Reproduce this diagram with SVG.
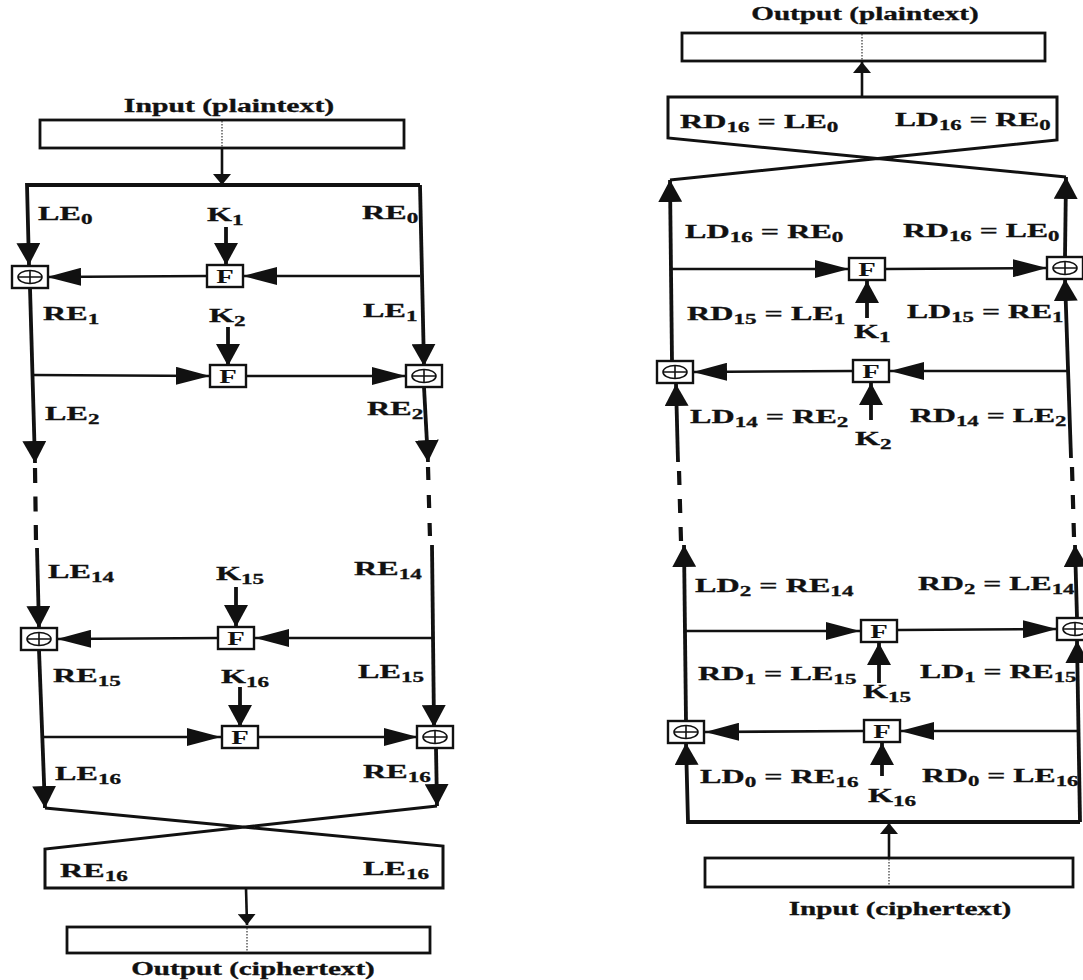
<svg xmlns="http://www.w3.org/2000/svg" width="1083" height="980" viewBox="0 0 1083 980">
<style>
.ln{stroke:#111;stroke-width:3.8;fill:none;stroke-linejoin:miter}
.br{stroke:#111;stroke-width:2.6;fill:none}
.dash{stroke:#111;stroke-width:4.2;fill:none}
.thin{stroke:#111;stroke-width:2.6;fill:none}
.box{fill:#fff;stroke:#111;stroke-width:2.4}
.io{fill:#fff;stroke:#111;stroke-width:2.8}
.dot{stroke:#333;stroke-width:1.2;stroke-dasharray:1.5,1.5}
.ring{fill:none;stroke:#111;stroke-width:1.6}
.t{font-family:"Liberation Serif","Times New Roman",serif;font-weight:bold;font-size:19.5px;fill:#111;stroke:#111;stroke-width:0.3}
.s{font-size:14px}
.ti{font-family:"Liberation Serif","Times New Roman",serif;font-weight:bold;font-size:18px;fill:#111;text-anchor:middle;stroke:#111;stroke-width:0.3}
.fx{font-family:"Liberation Serif","Times New Roman",serif;font-weight:bold;font-size:18px;fill:#111;text-anchor:middle}
</style>
<defs>
<marker id="av" markerUnits="userSpaceOnUse" markerWidth="22" markerHeight="24" refX="22" refY="12" orient="auto" viewBox="0 0 22 24"><path d="M0,0 L22,12 L0,24 z" fill="#111"/></marker>
<marker id="ah" markerUnits="userSpaceOnUse" markerWidth="34" markerHeight="18" refX="34" refY="9" orient="auto" viewBox="0 0 34 18"><path d="M0,0 L34,9 L0,18 z" fill="#111"/></marker>
<marker id="as" markerUnits="userSpaceOnUse" markerWidth="11" markerHeight="18" refX="11" refY="9" orient="auto" viewBox="0 0 11 18"><path d="M0,0 L11,9 L0,18 z" fill="#111"/></marker>
</defs>
<rect width="1083" height="980" fill="#fff"/>

<!-- ===== LEFT: Encryption ===== -->
<g id="connectors-left">
<path class="thin" d="M222,148 L222,185" marker-end="url(#as)"/>
<path class="ln" d="M420,185 L27,185 L29,265" marker-end="url(#av)"/>
<path class="ln" d="M420,185 L424,366" marker-end="url(#av)"/>
<path class="br" d="M420,276 L243,276" marker-end="url(#ah)"/>
<path class="br" d="M207,276 L47,277" marker-end="url(#ah)"/>
<path class="ln" d="M226,227 L226,265" marker-end="url(#av)"/>
<path class="ln" d="M30,288 L35,463" marker-end="url(#av)"/>
<path class="br" d="M33,375 L210,376" marker-end="url(#ah)"/>
<path class="br" d="M247,376 L406,376" marker-end="url(#ah)"/>
<path class="ln" d="M228,327 L228,366" marker-end="url(#av)"/>
<path class="ln" d="M424,387 L428,462" marker-end="url(#av)"/>
<path class="dash" d="M35,468 L36,541" stroke-dasharray="15,13.5"/>
<path class="dash" d="M428,467 L430,538" stroke-dasharray="13,15"/>
<path class="ln" d="M37,548 L39,628" marker-end="url(#av)"/>
<path class="ln" d="M432,545 L434,727" marker-end="url(#av)"/>
<path class="br" d="M432,638 L255,638" marker-end="url(#ah)"/>
<path class="br" d="M218,638 L57,639" marker-end="url(#ah)"/>
<path class="ln" d="M236,587 L236,627" marker-end="url(#av)"/>
<path class="ln" d="M39,650 L45,808" marker-end="url(#av)"/>
<path class="br" d="M42,737 L221,737" marker-end="url(#ah)"/>
<path class="br" d="M258,737 L418,737" marker-end="url(#ah)"/>
<path class="ln" d="M240,687 L240,727" marker-end="url(#av)"/>
<path class="ln" d="M436,748 L437,806" marker-end="url(#av)"/>
<path class="ln" style="stroke-width:3" d="M45,808 L443,846 L443,888 L45,888 L45,849 L437,806"/>
<path class="thin" d="M246,888 L247,925" marker-end="url(#as)"/>
</g>

<g id="input-plaintext">
<text class="ti" transform="translate(229,112) scale(1.65,1)">Input (plaintext)</text>
<rect class="io" x="40" y="120" width="364" height="28"/>
<line class="dot" x1="222" y1="121" x2="222" y2="147"/>
</g>

<g id="xorL1" transform="translate(30,277)"><rect class="box" x="-18" y="-11" width="36" height="22"/><ellipse class="ring" rx="12" ry="6.5"/><path class="ring" d="M-12,0 H12 M0,-6.5 V6.5"/></g>
<g id="fL1" transform="translate(225,276)"><rect class="box" x="-18" y="-11" width="36" height="22"/><text class="fx" transform="translate(0,6.5) scale(1.6,1)">F</text></g>
<g id="xorL2" transform="translate(424,376)"><rect class="box" x="-18" y="-11" width="36" height="22"/><ellipse class="ring" rx="12" ry="6.5"/><path class="ring" d="M-12,0 H12 M0,-6.5 V6.5"/></g>
<g id="fL2" transform="translate(228,376)"><rect class="box" x="-18" y="-11" width="36" height="22"/><text class="fx" transform="translate(0,6.5) scale(1.6,1)">F</text></g>
<g id="xorL3" transform="translate(39,639)"><rect class="box" x="-18" y="-11" width="36" height="22"/><ellipse class="ring" rx="12" ry="6.5"/><path class="ring" d="M-12,0 H12 M0,-6.5 V6.5"/></g>
<g id="fL3" transform="translate(236,638)"><rect class="box" x="-18" y="-11" width="36" height="22"/><text class="fx" transform="translate(0,6.5) scale(1.6,1)">F</text></g>
<g id="xorL4" transform="translate(435,737)"><rect class="box" x="-18" y="-11" width="36" height="22"/><ellipse class="ring" rx="12" ry="6.5"/><path class="ring" d="M-12,0 H12 M0,-6.5 V6.5"/></g>
<g id="fL4" transform="translate(240,737)"><rect class="box" x="-18" y="-11" width="36" height="22"/><text class="fx" transform="translate(0,6.5) scale(1.6,1)">F</text></g>

<g id="labels-left">
<text class="t" transform="translate(38,220) scale(1.65,1)">LE<tspan class="s" dy="4">0</tspan></text>
<text class="t" transform="translate(207,221) scale(1.65,1)">K<tspan class="s" dy="4">1</tspan></text>
<text class="t" transform="translate(362,219) scale(1.65,1)">RE<tspan class="s" dy="4">0</tspan></text>
<text class="t" transform="translate(43,320) scale(1.65,1)">RE<tspan class="s" dy="4">1</tspan></text>
<text class="t" transform="translate(209,322) scale(1.65,1)">K<tspan class="s" dy="4">2</tspan></text>
<text class="t" transform="translate(363,317) scale(1.65,1)">LE<tspan class="s" dy="4">1</tspan></text>
<text class="t" transform="translate(45,420) scale(1.65,1)">LE<tspan class="s" dy="4">2</tspan></text>
<text class="t" transform="translate(367,415) scale(1.65,1)">RE<tspan class="s" dy="4">2</tspan></text>
<text class="t" transform="translate(48,578) scale(1.65,1)">LE<tspan class="s" dy="4">14</tspan></text>
<text class="t" transform="translate(216,580) scale(1.65,1)">K<tspan class="s" dy="4">15</tspan></text>
<text class="t" transform="translate(354,575) scale(1.65,1)">RE<tspan class="s" dy="4">14</tspan></text>
<text class="t" transform="translate(53,682) scale(1.65,1)">RE<tspan class="s" dy="4">15</tspan></text>
<text class="t" transform="translate(221,683) scale(1.65,1)">K<tspan class="s" dy="4">16</tspan></text>
<text class="t" transform="translate(358,678) scale(1.65,1)">LE<tspan class="s" dy="4">15</tspan></text>
<text class="t" transform="translate(55,780) scale(1.65,1)">LE<tspan class="s" dy="4">16</tspan></text>
<text class="t" transform="translate(363,778) scale(1.65,1)">RE<tspan class="s" dy="4">16</tspan></text>
<text class="t" transform="translate(60,877) scale(1.65,1)">RE<tspan class="s" dy="4">16</tspan></text>
<text class="t" transform="translate(363,875) scale(1.65,1)">LE<tspan class="s" dy="4">16</tspan></text>
</g>

<g id="output-ciphertext">
<rect class="io" x="67" y="927" width="363" height="26"/>
<line class="dot" x1="247" y1="928" x2="247" y2="952"/>
<text class="ti" transform="translate(253,975) scale(1.62,1)">Output (ciphertext)</text>
</g>

<!-- ===== RIGHT: Decryption ===== -->
<g id="connectors-right">
<path class="thin" d="M862,97 L862,62" marker-end="url(#as)"/>
<path class="ln" style="stroke-width:3" d="M1066,177 L668,138 L668,97 L1057,97 L1057,140 L670,180"/>
<path class="ln" d="M672,362 L670,180" marker-end="url(#av)"/>
<path class="ln" d="M1065,258 L1066,177" marker-end="url(#av)"/>
<path class="br" d="M671,269 L849,269" marker-end="url(#ah)"/>
<path class="br" d="M886,269 L1047,268" marker-end="url(#ah)"/>
<path class="ln" d="M867,318 L867,281" marker-end="url(#av)"/>
<path class="ln" d="M1071,458 L1065,279" marker-end="url(#av)"/>
<path class="br" d="M1068,371 L890,371" marker-end="url(#ah)"/>
<path class="br" d="M853,371 L693,372" marker-end="url(#ah)"/>
<path class="ln" d="M871,420 L871,383" marker-end="url(#av)"/>
<path class="ln" d="M678,462 L676,384" marker-end="url(#av)"/>
<path class="dash" d="M681,541 L679,470" stroke-dasharray="14,14"/>
<path class="dash" d="M1074,537 L1072,467" stroke-dasharray="14,14"/>
<path class="ln" d="M686,722 L684,545" marker-end="url(#av)"/>
<path class="ln" d="M1077,618 L1075,545" marker-end="url(#av)"/>
<path class="br" d="M685,631 L860,631" marker-end="url(#ah)"/>
<path class="br" d="M898,630 L1057,629" marker-end="url(#ah)"/>
<path class="ln" d="M879,683 L879,643" marker-end="url(#av)"/>
<path class="ln" d="M1080,822 L688,822 L686,743" marker-end="url(#av)"/>
<path class="ln" d="M1080,822 L1077,641" marker-end="url(#av)"/>
<path class="br" d="M1079,731 L900,731" marker-end="url(#ah)"/>
<path class="br" d="M863,731 L705,732" marker-end="url(#ah)"/>
<path class="ln" d="M882,776 L882,743" marker-end="url(#av)"/>
<path class="thin" d="M889,858 L889,823" marker-end="url(#as)"/>
</g>

<g id="output-plaintext">
<text class="ti" transform="translate(865,20) scale(1.62,1)">Output (plaintext)</text>
<rect class="io" x="682" y="33" width="363" height="28"/>
<line class="dot" x1="862" y1="34" x2="862" y2="60"/>
</g>

<g id="fR1" transform="translate(867,269)"><rect class="box" x="-18" y="-11" width="36" height="22"/><text class="fx" transform="translate(0,6.5) scale(1.6,1)">F</text></g>
<g id="xorR1" transform="translate(1065,268)"><rect class="box" x="-18" y="-11" width="36" height="22"/><ellipse class="ring" rx="12" ry="6.5"/><path class="ring" d="M-12,0 H12 M0,-6.5 V6.5"/></g>
<g id="xorR2" transform="translate(675,372)"><rect class="box" x="-18" y="-11" width="36" height="22"/><ellipse class="ring" rx="12" ry="6.5"/><path class="ring" d="M-12,0 H12 M0,-6.5 V6.5"/></g>
<g id="fR2" transform="translate(871,371)"><rect class="box" x="-18" y="-11" width="36" height="22"/><text class="fx" transform="translate(0,6.5) scale(1.6,1)">F</text></g>
<g id="fR3" transform="translate(879,631)"><rect class="box" x="-18" y="-11" width="36" height="22"/><text class="fx" transform="translate(0,6.5) scale(1.6,1)">F</text></g>
<g id="xorR3" transform="translate(1075,629)"><rect class="box" x="-18" y="-11" width="36" height="22"/><ellipse class="ring" rx="12" ry="6.5"/><path class="ring" d="M-12,0 H12 M0,-6.5 V6.5"/></g>
<g id="xorR4" transform="translate(686,732)"><rect class="box" x="-18" y="-11" width="36" height="22"/><ellipse class="ring" rx="12" ry="6.5"/><path class="ring" d="M-12,0 H12 M0,-6.5 V6.5"/></g>
<g id="fR4" transform="translate(882,731)"><rect class="box" x="-18" y="-11" width="36" height="22"/><text class="fx" transform="translate(0,6.5) scale(1.6,1)">F</text></g>

<g id="labels-right">
<text class="t" transform="translate(680,128) scale(1.65,1)">RD<tspan class="s" dy="4">16</tspan><tspan dy="-4"> = LE</tspan><tspan class="s" dy="4">0</tspan></text>
<text class="t" transform="translate(895,126) scale(1.62,1)">LD<tspan class="s" dy="4">16</tspan><tspan dy="-4"> = RE</tspan><tspan class="s" dy="4">0</tspan></text>
<text class="t" transform="translate(685,238) scale(1.65,1)">LD<tspan class="s" dy="4">16</tspan><tspan dy="-4"> = RE</tspan><tspan class="s" dy="4">0</tspan></text>
<text class="t" transform="translate(903,237) scale(1.63,1)">RD<tspan class="s" dy="4">16</tspan><tspan dy="-4"> = LE</tspan><tspan class="s" dy="4">0</tspan></text>
<text class="t" transform="translate(687,320) scale(1.65,1)">RD<tspan class="s" dy="4">15</tspan><tspan dy="-4"> = LE</tspan><tspan class="s" dy="4">1</tspan></text>
<text class="t" transform="translate(854,338) scale(1.65,1)">K<tspan class="s" dy="4">1</tspan></text>
<text class="t" transform="translate(907,318) scale(1.63,1)">LD<tspan class="s" dy="4">15</tspan><tspan dy="-4"> = RE</tspan><tspan class="s" dy="4">1</tspan></text>
<text class="t" transform="translate(690,423) scale(1.65,1)">LD<tspan class="s" dy="4">14</tspan><tspan dy="-4"> = RE</tspan><tspan class="s" dy="4">2</tspan></text>
<text class="t" transform="translate(855,445) scale(1.65,1)">K<tspan class="s" dy="4">2</tspan></text>
<text class="t" transform="translate(910,422) scale(1.63,1)">RD<tspan class="s" dy="4">14</tspan><tspan dy="-4"> = LE</tspan><tspan class="s" dy="4">2</tspan></text>
<text class="t" transform="translate(695,592) scale(1.65,1)">LD<tspan class="s" dy="4">2</tspan><tspan dy="-4"> = RE</tspan><tspan class="s" dy="4">14</tspan></text>
<text class="t" transform="translate(918,590) scale(1.63,1)">RD<tspan class="s" dy="4">2</tspan><tspan dy="-4"> = LE</tspan><tspan class="s" dy="4">14</tspan></text>
<text class="t" transform="translate(698,680) scale(1.65,1)">RD<tspan class="s" dy="4">1</tspan><tspan dy="-4"> = LE</tspan><tspan class="s" dy="4">15</tspan></text>
<text class="t" transform="translate(863,698) scale(1.65,1)">K<tspan class="s" dy="4">15</tspan></text>
<text class="t" transform="translate(920,678) scale(1.63,1)">LD<tspan class="s" dy="4">1</tspan><tspan dy="-4"> = RE</tspan><tspan class="s" dy="4">15</tspan></text>
<text class="t" transform="translate(700,783) scale(1.65,1)">LD<tspan class="s" dy="4">0</tspan><tspan dy="-4"> = RE</tspan><tspan class="s" dy="4">16</tspan></text>
<text class="t" transform="translate(868,802) scale(1.65,1)">K<tspan class="s" dy="4">16</tspan></text>
<text class="t" transform="translate(922,782) scale(1.63,1)">RD<tspan class="s" dy="4">0</tspan><tspan dy="-4"> = LE</tspan><tspan class="s" dy="4">16</tspan></text>
</g>

<g id="input-ciphertext">
<rect class="io" x="705" y="858" width="368" height="29"/>
<line class="dot" x1="889" y1="859" x2="889" y2="886"/>
<text class="ti" transform="translate(900,915) scale(1.62,1)">Input (ciphertext)</text>
</g>
</svg>
